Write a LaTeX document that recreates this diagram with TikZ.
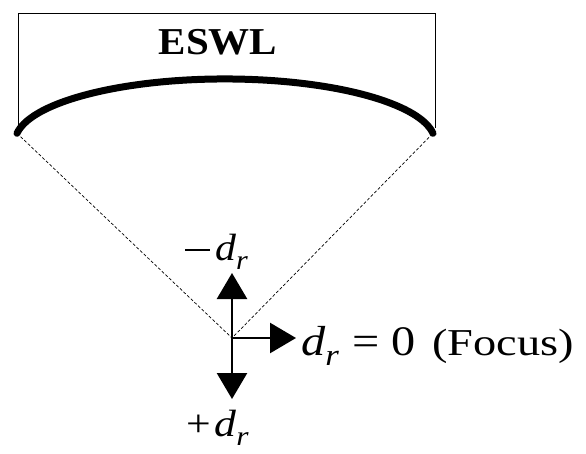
\documentclass[tikz,border=0pt]{standalone}
\usepackage{fontspec}
\setmainfont{Liberation Serif}[ItalicFont=Liberation Serif Italic, BoldFont=Liberation Serif Bold]
\usetikzlibrary{arrows.meta, positioning}
\newcommand{\dr}{\textit{d}\raisebox{-0.26em}{\scalebox{0.72}{\textit{r}}}}

\begin{document}
\begin{tikzpicture}[x=1pt, y=-1pt,
  dirarrow/.style={line width=2.6pt, -{Triangle[length=26pt, width=30pt]}},
  beam/.style={dash pattern=on 3pt off 2pt, line width=0.7pt},
  lbl/.style={anchor=base west, inner sep=0pt, font=\fontsize{38}{42}\selectfont}]
  \useasboundingbox (0,0) rectangle (586,453);
  \coordinate (focus) at (232,338);
  \coordinate (lend) at (17,133.3);
  \coordinate (rend) at (433,133.3);
  \coordinate (up) at (232,273);
  \coordinate (down) at (232,399);
  \coordinate (side) at (296,338);

  % source housing and reflector
  \draw[line width=0.8pt] (18,128) -- (18,13) -- (435,13) -- (435,128);
  \node[font=\fontsize{38}{42}\selectfont\bfseries] (eswl) at (218,42.5) {\scalebox{1.08}[1]{ESWL}};
  \draw[line width=7pt, line cap=round] (lend) arc[start angle=187.9, end angle=352.1, x radius=210, y radius=63];

  % beam towards focus
  \draw[beam] (lend) -- (focus) -- (rend);

  \draw[dirarrow] (focus) -- (up);
  \draw[dirarrow] (focus) -- (down);
  \draw[dirarrow] (focus) -- (side);

  \node[lbl] (minus) at (185,260) {\rule[9pt]{25pt}{1.8pt}\hspace{5pt}\scalebox{1.1}[1]{\dr}};
  \node[lbl] (plus) at (186,436) {\scalebox{1.15}[1]{+\hspace{3pt}\dr}};
  \node[lbl, font=\fontsize{42}{46}\selectfont] (zero) at (301,355) {\scalebox{1.15}[1]{\dr\hspace{12pt}=\hspace{10pt}0}};
  \node[lbl] (focuslbl) at (432,355) {\scalebox{1.22}[1]{(Focus)}};
\end{tikzpicture}
\end{document}
